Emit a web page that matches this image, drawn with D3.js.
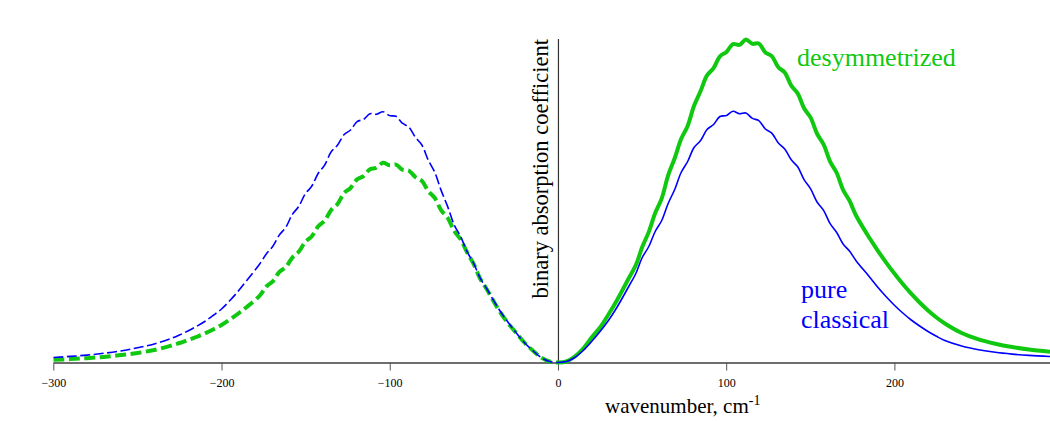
<!DOCTYPE html>
<html>
<head>
<meta charset="utf-8">
<script src="https://cdn.jsdelivr.net/npm/d3@7"></script>
<style>
  html, body { margin: 0; padding: 0; background: #fff; }
  svg { display: block; font-family: "Liberation Serif", "Times New Roman", serif; }
</style>
</head>
<body>
<svg id="chart" width="1050" height="421"></svg>
<script>
// Binary absorption band: pure classical profile vs. desymmetrized profile.
// Wavenumbers in cm-1, absorption in arbitrary units.

// Positive-frequency branch (solid lines)
const wavenumberPos = [0, 5, 10, 15, 20, 25, 30, 35,
  42.4, 46.3, 50.1, 54.0, 57.8, 61.7, 65.5, 69.4, 73.2, 77.1, 80.9, 84.8, 88.6, 92.5, 96.3, 100.2,
  104.0, 107.9, 111.7, 115.6, 119.4, 123.3, 127.1, 131.0, 134.8, 138.7, 142.5, 146.4, 150.2, 154.1,
  157.9, 161.8, 165.6, 169.5, 173.3, 177.2,
  185, 190, 195, 200, 205, 210, 215, 220, 225, 230, 240, 250, 260, 270, 280, 292.5];
const classicalPos = [0, 0.01, 0.05, 0.12, 0.21, 0.31, 0.42, 0.55,
  0.77, 0.89, 1.05, 1.16, 1.31, 1.42, 1.59, 1.73, 1.90, 2.01, 2.15, 2.22, 2.33, 2.38, 2.46, 2.47,
  2.512, 2.487, 2.495, 2.441, 2.419, 2.335, 2.294, 2.196, 2.136, 2.027, 1.957, 1.826, 1.736, 1.603,
  1.521, 1.388, 1.302, 1.185, 1.115, 1.018,
  0.86, 0.755, 0.66, 0.573, 0.495, 0.425, 0.365, 0.31, 0.262, 0.22, 0.165, 0.128, 0.102, 0.084, 0.071, 0.06];
const desymPos = [0, 0.01, 0.06, 0.14, 0.25, 0.35, 0.48, 0.62,
  0.852, 0.975, 1.154, 1.306, 1.494, 1.642, 1.872, 2.043, 2.234, 2.366, 2.567, 2.715, 2.871, 2.944, 3.062, 3.106,
  3.184, 3.176, 3.23, 3.187, 3.19, 3.101, 3.064, 2.952, 2.90, 2.768, 2.691, 2.539, 2.449, 2.285,
  2.182, 2.009, 1.90, 1.726, 1.618, 1.47,
  1.25, 1.122, 1.002, 0.89, 0.785, 0.688, 0.60, 0.52, 0.45, 0.39, 0.295, 0.232, 0.188, 0.155, 0.13, 0.108];

// Negative-frequency branch (dashed lines)
const wavenumberNeg = [-300, -290, -280, -270, -260, -250, -240, -230, -225, -220, -215, -210, -205, -200,
  -195, -190, -185,
  -177.2, -173.3, -169.5, -165.6, -161.8, -157.9, -154.1, -150.2, -146.4, -142.5, -138.7, -134.8,
  -131.0, -127.1, -123.3, -119.4, -115.6, -111.7, -107.9, -104.0, -100.2, -96.3, -92.5, -88.6,
  -84.8, -80.9, -77.1, -73.2, -69.4, -65.5, -61.7, -57.8, -54.0, -50.1, -46.3, -42.4,
  -35, -30, -25, -20, -15, -10, -5, 0];
const classicalNeg = [0.05, 0.061, 0.074, 0.092, 0.115, 0.147, 0.185, 0.24, 0.275, 0.315, 0.36, 0.41, 0.47, 0.535,
  0.62, 0.715, 0.82,
  0.988, 1.087, 1.162, 1.276, 1.351, 1.481, 1.561, 1.687, 1.762, 1.892, 1.974, 2.107,
  2.174, 2.28, 2.325, 2.409, 2.431, 2.488, 2.482, 2.508, 2.469, 2.462, 2.393, 2.354,
  2.253, 2.175, 2.024, 1.90, 1.719, 1.556, 1.376, 1.257, 1.108, 0.991, 0.846, 0.74,
  0.53, 0.41, 0.30, 0.20, 0.12, 0.05, 0.01, 0];
const desymNeg = [0.027, 0.034, 0.043, 0.056, 0.074, 0.095, 0.125, 0.168, 0.195, 0.225, 0.255, 0.29, 0.33, 0.375,
  0.43, 0.49, 0.555,
  0.67, 0.76, 0.812, 0.906, 0.954, 1.049, 1.108, 1.206, 1.26, 1.362, 1.417, 1.526,
  1.586, 1.696, 1.745, 1.831, 1.864, 1.933, 1.947, 1.997, 1.973, 1.979, 1.928, 1.918,
  1.855, 1.816, 1.714, 1.645, 1.522, 1.445, 1.316, 1.23, 1.10, 0.985, 0.84, 0.735,
  0.52, 0.40, 0.30, 0.20, 0.12, 0.05, 0.01, 0];

const xTicks = [-300, -200, -100, 0, 100, 200];

const BLUE = "#0000ff";
const GREEN = "#10c810";
const FONT = "'Liberation Serif', 'Times New Roman', serif";

const svg = d3.select("#chart");

const x = d3.scaleLinear().domain([-300, 292.5]).range([53.3, 1050]);
const y = d3.scaleLinear().domain([0, 3.24]).range([362.5, 38.5]);

// clip region for the curves
svg.append("defs").append("clipPath").attr("id", "plotClip")
  .append("rect").attr("x", x(-300)).attr("y", 0).attr("width", 1050 - x(-300)).attr("height", 400);

// x axis
const xAxis = svg.append("g")
  .attr("transform", `translate(0,${y(0)})`)
  .call(d3.axisBottom(x).tickValues(xTicks).tickSize(8).tickSizeOuter(0).tickPadding(8)
        .tickFormat(d3.format("")));
xAxis.select(".domain").attr("stroke", "#6e6e6e").attr("stroke-width", 2);
xAxis.selectAll(".tick line").attr("stroke", "#555").attr("stroke-width", 1);
xAxis.selectAll(".tick text").attr("font-family", FONT).attr("font-size", 12).attr("fill", "#000");

// y axis (no ticks) at zero wavenumber
const yAxis = svg.append("g")
  .attr("transform", `translate(${x(0)},0)`)
  .call(d3.axisLeft(y).tickValues([]).tickSizeOuter(0));
yAxis.select(".domain").attr("stroke", "#333").attr("stroke-width", 1.2);

// curves
const line = d3.line()
  .x(d => x(d[0]))
  .y(d => y(d[1]))
  .curve(d3.curveCatmullRom.alpha(0.5));

const curves = svg.append("g").attr("clip-path", "url(#plotClip)");

function drawCurve(xs, ys, color, width, dash) {
  const pts = xs.map((v, i) => [v, ys[i]]);
  curves.append("path")
    .datum(pts)
    .attr("d", line)
    .attr("fill", "none")
    .attr("stroke", color)
    .attr("stroke-width", width)
    .attr("stroke-linejoin", "round")
    .attr("stroke-dasharray", dash || null);
}

drawCurve(wavenumberNeg, desymNeg, GREEN, 4, "11,4.5");
drawCurve(wavenumberPos, desymPos, GREEN, 4, null);
drawCurve(wavenumberNeg, classicalNeg, BLUE, 1.6, "10,3.5");
drawCurve(wavenumberPos, classicalPos, BLUE, 1.6, null);

// series labels
svg.append("text")
  .attr("x", 797).attr("y", 66)
  .attr("font-family", FONT).attr("font-size", 26).attr("fill", GREEN)
  .text("desymmetrized");
svg.append("text")
  .attr("x", 801).attr("y", 298)
  .attr("font-family", FONT).attr("font-size", 26).attr("fill", BLUE)
  .text("pure");
svg.append("text")
  .attr("x", 801).attr("y", 328)
  .attr("font-family", FONT).attr("font-size", 26).attr("fill", BLUE)
  .text("classical");

// axis titles
const xTitle = svg.append("text")
  .attr("x", 605).attr("y", 413)
  .attr("font-family", FONT).attr("font-size", 21).attr("fill", "#000");
xTitle.append("tspan").text("wavenumber, cm");
xTitle.append("tspan").attr("font-size", 14).attr("dy", -8).text("-1");

svg.append("text")
  .attr("transform", `translate(548,39) rotate(-90)`)
  .attr("text-anchor", "end")
  .attr("font-family", FONT).attr("font-size", 22.5).attr("fill", "#000")
  .text("binary absorption coefficient");
</script>
</body>
</html>
